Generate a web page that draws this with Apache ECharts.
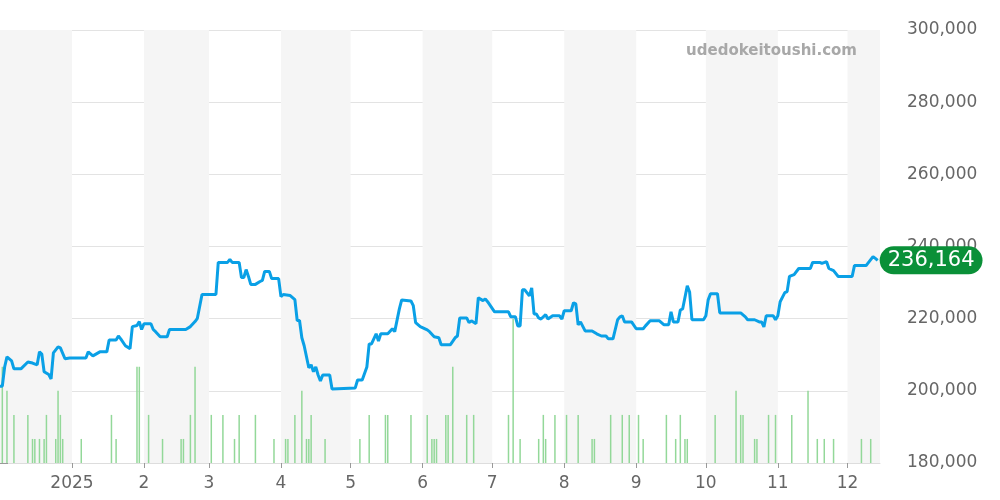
<!DOCTYPE html>
<html>
<head>
<meta charset="utf-8">
<script src="https://cdn.jsdelivr.net/npm/echarts@6/dist/echarts.min.js"></script>
<style>html,body{margin:0;padding:0;background:#fff}#chart{width:1000px;height:500px}</style>
</head>
<body>
<div id="chart"></div>
<script>
// days counted from 2024-12-01, prices in thousand yen
const priceDays = [0,1,2,3,5,6,9,12,14,16,17,18,19,21,22,23,25,26,28,30,37,38,40,43,46,47,50,51,52,54,56,57,59,60,61,62,65,66,67,69,72,73,80,82,84,85,87,93,94,98,99,100,103,104,105,106,107,108,110,112,113,114,116,117,120,121,122,125,127,128,129,130,131,133,134,135,136,137,138,139,142,143,153,154,156,158,159,160,162,163,164,167,169,170,172,173,177,178,179,181,184,185,187,189,190,194,196,197,198,201,202,203,205,206,208,209,210,213,219,220,222,223,224,225,226,228,229,230,231,232,233,235,236,238,241,242,243,246,247,248,249,250,252,255,257,259,261,262,264,266,267,268,269,272,274,277,278,280,284,286,288,289,290,292,293,294,296,297,298,303,304,305,306,309,310,319,321,322,325,327,328,329,330,333,334,335,336,338,339,340,342,344,349,350,353,354,356,357,359,361,367,368,373,376,377,378];
const prices = [201.3,201.3,206.6,209.4,208.3,206.1,206.1,208.0,207.7,207.2,210.8,210.2,205.3,204.5,203.3,210.5,212.2,211.9,208.9,209.1,209.1,210.8,209.7,210.8,210.8,214.1,214.1,215.2,214.4,212.5,211.7,217.8,218.1,219.2,217.0,218.6,218.6,217.0,216.4,215.0,215.0,217.0,217.0,217.8,219.2,220.1,226.7,226.7,235.6,235.6,236.4,235.6,235.6,231.4,231.4,233.6,231.7,229.5,229.5,230.3,230.6,233.1,233.1,231.1,231.1,226.1,226.7,226.4,225.3,219.5,219.5,214.7,212.5,206.4,207.2,205.3,206.6,204.4,202.7,204.4,204.4,200.5,200.8,203.0,203.0,206.6,213.0,213.0,215.8,213.8,215.8,215.8,217.2,216.4,222.7,225.2,224.9,223.6,218.9,217.8,216.9,216.4,215.0,214.7,212.8,212.8,214.7,215.2,220.2,220.2,218.9,219.4,218.6,225.8,225.0,225.5,224.7,221.9,221.9,220.5,220.5,218.0,218.0,228.0,228.0,226.3,228.5,221.3,221.3,220.2,219.9,221.1,219.9,220.8,220.8,219.9,222.2,222.2,224.4,224.1,218.3,219.1,216.6,216.6,215.8,215.2,215.2,214.4,214.4,219.7,220.5,220.8,219.1,219.1,217.2,217.2,218.0,219.4,219.4,218.3,218.3,221.9,219.1,219.1,222.4,222.7,229.1,227.4,219.7,219.7,220.8,225.2,226.9,226.9,221.6,221.6,220.5,219.7,219.7,219.1,219.1,217.7,220.8,220.8,219.7,220.8,224.7,227.2,227.5,231.7,232.2,233.9,233.9,235.6,235.6,235.3,235.8,233.9,233.3,231.7,231.7,234.7,234.7,237.2,236.7,236.164];
const volDays = [1,3,6,12,14,15,17,19,20,24,25,26,27,35,48,50,59,60,64,70,78,79,82,84,91,96,101,103,110,118,123,124,127,130,132,133,134,140,155,159,166,167,177,184,186,187,188,192,193,195,201,204,219,221,224,232,234,235,239,244,249,255,256,263,268,271,275,277,287,291,293,295,296,308,317,319,320,325,326,331,334,341,348,352,355,359,371,375];
const volumes = [4,3,2,2,1,1,1,1,2,1,3,2,1,1,2,1,4,4,2,1,1,1,2,4,2,2,1,2,2,1,1,1,2,3,1,1,2,1,1,2,2,2,2,2,1,1,1,2,2,4,2,2,2,6,1,1,2,1,2,2,2,1,1,2,2,2,2,1,2,1,2,1,1,2,3,2,2,1,1,2,2,2,3,1,1,1,1,1];
// month starts (days from 2024-12-01) and their labels
const monthDays = [31,62,90,121,151,182,212,243,274,304,335,365];
const monthLabels = ['2025','2','3','4','5','6','7','8','9','10','11','12'];
const shadedBands = [[0,31],[62,90],[121,151],[182,212],[243,274],[304,335],[365,379]];
const lastPrice = '236,164';
const watermark = 'udedokeitoushi.com';

const lineData = priceDays.map((d, i) => [d, prices[i] * 1000]);
const volData = volDays.map((d, i) => [d, volumes[i]]);

const chart = echarts.init(document.getElementById('chart'));
chart.setOption({
    animation: false,
    grid: { left: 0, right: 120, top: 30, bottom: 37 },
    graphic: [{
        type: 'text', right: 143, top: 44, z: 100,
        style: { text: watermark, fill: '#a8a8a8', font: 'bold 15px "DejaVu Sans"' }
    }],
    xAxis: {
        type: 'value', min: 0, max: 379,
        axisLine: { show: true, lineStyle: { color: '#ddd' } },
        axisTick: { show: true, customValues: monthDays, length: 5, lineStyle: { color: '#999' } },
        axisLabel: {
            customValues: monthDays, color: '#666', fontSize: 17, margin: 12,
            fontFamily: 'DejaVu Sans',
            formatter: v => monthLabels[monthDays.indexOf(v)]
        },
        splitLine: { show: false }
    },
    yAxis: [{
        type: 'value', position: 'right', min: 180000, max: 300000, interval: 20000,
        axisLine: { show: false },
        axisTick: { show: true, length: 8, lineStyle: { color: '#999' } },
        axisLabel: { color: '#666', fontSize: 17, fontFamily: 'DejaVu Sans', margin: 27,
            formatter: v => v.toLocaleString('en-US') },
        splitLine: { lineStyle: { color: '#e3e3e3' } }
    }, {
        type: 'value', min: 0, max: 18, show: false, splitLine: { show: false }
    }],
    series: [{
        type: 'bar', yAxisIndex: 1, data: volData, barWidth: 1.5,
        itemStyle: { color: '#93d899' }, silent: true,
        markArea: {
            silent: true, itemStyle: { color: '#f5f5f5', opacity: 1 },
            data: shadedBands.map(b => [{ xAxis: b[0] }, { xAxis: b[1] }])
        }
    }, {
        type: 'line', data: lineData, showSymbol: false,
        lineStyle: { color: '#0aa0e6', width: 3 }, itemStyle: { color: '#0aa0e6' },
        endLabel: {
            show: true, formatter: () => lastPrice, color: '#fff', fontSize: 21,
            fontFamily: 'DejaVu Sans', backgroundColor: '#0a9038', borderRadius: 15,
            padding: [4, 8, 3, 8], distance: 2
        }
    }]
});
</script>
</body>
</html>
